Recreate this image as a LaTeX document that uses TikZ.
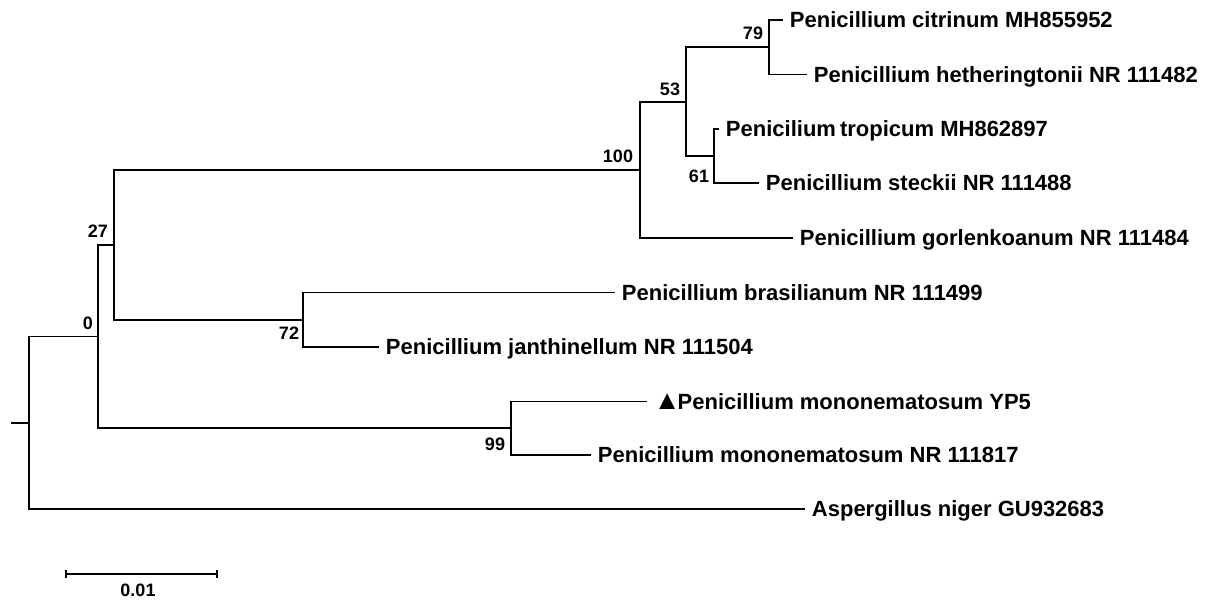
\documentclass[tikz,border=0pt]{standalone}
\usepackage{fontspec}
\setmainfont{Liberation Sans}

\begin{document}
\begin{tikzpicture}[x=1pt,y=-1pt,line width=1.9pt,
    taxon/.style={anchor=west,inner xsep=6pt,inner ysep=0pt,text height=15.8pt,text depth=0pt,font=\fontsize{22}{24}\selectfont\bfseries},
    boot/.style={inner sep=0pt,font=\fontsize{18}{20}\selectfont\bfseries}]
    \useasboundingbox (0,0) rectangle (1211,603);

    % leaves
    \node[taxon] (cit) at (783,20)    {Penicillium citrinum MH855952};
    \node[taxon] (het) at (807,74.5)  {Penicillium hetheringtonii NR 111482};
    \node[taxon] (tro) at (719,129)   {Penicilium\hspace{-2pt} tropicum MH862897};
    \node[taxon] (ste) at (759,183)   {Penicillium steckii NR 111488};
    \node[taxon] (gor) at (793,238)   {Penicillium gorlenkoanum NR 111484};
    \node[taxon] (bra) at (615,292.5) {Penicillium brasilianum NR 111499};
    \node[taxon] (jan) at (379,347)   {Penicillium janthinellum NR 111504};
    \node[taxon] (yp5) at (647,401.5) {{\fontsize{27}{27}\selectfont ▲}\kern-3pt Penicillium mononematosum YP5};
    \node[taxon] (mon) at (591,455)   {Penicillium mononematosum NR 111817};
    \node[taxon] (nig) at (805,509)   {Aspergillus niger GU932683};

    % inner nodes
    \coordinate (stub) at (11,422.75);
    \coordinate (r)    at (29,422.75);
    \coordinate (n0)   at (98,336.5);
    \coordinate (n27)  at (114,244.8);
    \coordinate (n100) at (640,169.8);
    \coordinate (n53)  at (686,101.6);
    \coordinate (n79)  at (769,47.25);
    \coordinate (n61)  at (714,156);
    \coordinate (n72)  at (303,319.75);
    \coordinate (n99)  at (511,428.25);

    \draw (stub) -- (r);
    \draw (r) |- (n0);   \draw (r) |- (nig.west);
    \draw (n0) |- (n27); \draw (n0) |- (n99);
    \draw (n27) |- (n100); \draw (n27) |- (n72);
    \draw (n100) |- (n53); \draw (n100) |- (gor.west);
    \draw (n53) |- (n79);  \draw (n53) |- (n61);
    \draw (n79) |- (cit.west); \draw (n79) |- (het.west);
    \draw (n61) |- (tro.west); \draw (n61) |- (ste.west);
    \draw (n72) |- (bra.west); \draw (n72) |- (jan.west);
    \draw (n99) |- (yp5.west); \draw (n99) |- (mon.west);

    % bootstrap values
    \node[boot] (b79)  at (753,33.5)  {79};
    \node[boot] (b53)  at (670,89.5)  {53};
    \node[boot] (b100) at (618,156)   {100};
    \node[boot] (b61)  at (699,176)   {61};
    \node[boot] (b27)  at (98,231)    {27};
    \node[boot] (b0)   at (88,323)    {0};
    \node[boot] (b72)  at (289,333.5) {72};
    \node[boot] (b99)  at (495,444)   {99};

    % scale bar
    \coordinate (sa) at (66,574);
    \coordinate (sb) at (217,574);
    \draw (sa) -- (sb);
    \draw (sa) ++(0,-4) -- ++(0,8);
    \draw (sb) ++(0,-4) -- ++(0,8);
    \node[boot] (sc) at (138,590.5) {0.01};
\end{tikzpicture}
\end{document}
